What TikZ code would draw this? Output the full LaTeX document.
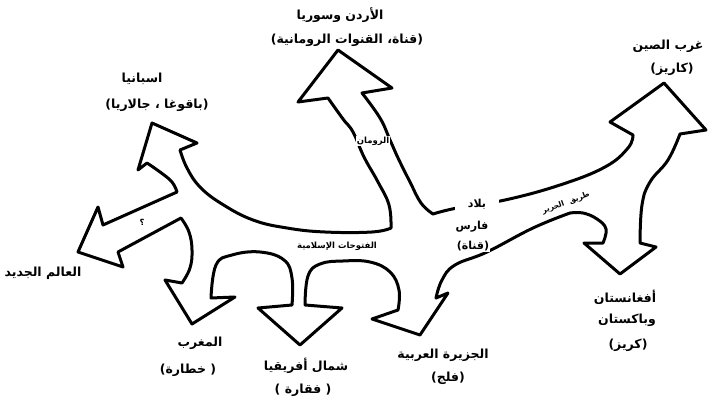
\documentclass[tikz,border=0pt]{standalone}
\usepackage{fontspec}
\newfontfamily\arabicfont[Script=Arabic]{DejaVu Sans}
\TeXXeTstate=1

\begin{document}
\begin{tikzpicture}[x=1pt,y=-1pt,
	outline/.style={draw=black,line width=3pt,line join=round},
	lbl/.style={font=\arabicfont\bfseries\fontsize{12.5}{14}\selectfont,inner sep=1pt},
	lblmid/.style={font=\arabicfont\bfseries\fontsize{11}{12}\selectfont,inner sep=1pt,fill=white},
	lblsmall/.style={font=\arabicfont\bfseries\fontsize{8.5}{9}\selectfont,inner sep=1pt,fill=white}]
	\useasboundingbox (0,0) rectangle (713,412);
	% one closed outline: spain, romans, china, afghanistan, arabia, north africa, maghreb, new world
	\draw[outline]
		(152,123) -- (197,143) -- (180,150)
		-- plot[smooth,tension=0.7] coordinates {(180,150) (187,168) (200,187) (222,204) (253,220) (287,228) (325,232) (372,232) (391,228)}
		-- plot[smooth,tension=0.7] coordinates {(391,228) (389,205) (378,182) (364,157) (353,132) (343,119) (328,98)}
		-- (298,102) -- (338,50) -- (392,88) -- (362,93)
		-- plot[smooth,tension=0.7] coordinates {(362,93) (380,118) (390,140) (399,160) (410,182) (421,203) (433,214)}
		-- plot[smooth,tension=0.7] coordinates {(433,214) (457,208) (505,200) (560,185) (605,167) (628,148) (633,135)}
		-- (610,122) -- (664,83) -- (706,130) -- (680,134)
		-- plot[smooth,tension=0.7] coordinates {(680,134) (668,160) (650,182) (642,205) (640,243)}
		-- (656,247) -- (620,274) -- (584,243) -- (603,243)
		-- plot[smooth,tension=0.7] coordinates {(603,243) (606,229) (597,219) (583,213) (570,213)}
		-- plot[smooth,tension=0.7] coordinates {(570,213) (533,228) (487,252) (455,265) (442,280) (436,298)}
		-- (448,293) -- (420,335) -- (372,319) -- (398,310)
		-- plot[smooth,tension=0.7] coordinates {(398,310) (399,290) (390,272) (370,262) (343,261) (320,264) (308,276) (305,305)}
		-- (342,308) -- (300,345) -- (258,308) -- (292,305)
		-- plot[smooth,tension=0.7] coordinates {(292,305) (292,278) (284,260) (260,252) (232,255) (216,265) (211,298)}
		-- (235,297) -- (192,324) -- (165,280) -- (182,283)
		-- plot[smooth,tension=0.7] coordinates {(182,283) (190,268) (192,250) (189,232) (181,218)}
		-- (118,252) -- (123,267) -- (78,252) -- (98,207) -- (103,225) -- (177,192)
		-- plot[smooth,tension=0.7] coordinates {(177,192) (172,182) (160,172) (147,163)}
		-- (138,170) -- cycle;

	% labels
	\node[lbl] (jorA) at (340,15) {\beginR الأردن وسوريا\endR};
	\node[lbl] (jorB) at (347,40) {\beginR (قناة، القنوات الرومانية)\endR};
	\node[lbl] (chnA) at (668,46) {\beginR غرب الصين\endR};
	\node[lbl] (chnB) at (672,69) {\beginR (كاريز)\endR};
	\node[lbl] (spnA) at (142,79) {\beginR اسبانيا\endR};
	\node[lbl] (spnB) at (157,105) {\beginR (باقوغا ، جالاريا)\endR};
	\node[lbl] (nwdA) at (43,273) {\beginR العالم الجديد\endR};
	\node[lbl] (mgrA) at (200,343) {\beginR المغرب\endR};
	\node[lbl] (mgrB) at (188,370) {\beginR ( خطارة)\endR};
	\node[lbl] (nafA) at (306,366) {\beginR شمال أفريقيا\endR};
	\node[lbl] (nafB) at (303,390) {\beginR ( فقارة )\endR};
	\node[lbl] (arbA) at (443,355) {\beginR الجزيرة العربية\endR};
	\node[lbl] (arbB) at (448,378) {\beginR (فلج)\endR};
	\node[lbl] (afgA) at (625,297) {\beginR أفغانستان\endR};
	\node[lbl] (afgB) at (627,320) {\beginR وباكستان\endR};
	\node[lbl] (afgC) at (628,345) {\beginR (كريز)\endR};
	\node[lblmid,minimum width=44pt] (prsA) at (477,204) {\beginR بلاد\endR};
	\node[lblmid] (prsB) at (472,227) {\beginR فارس\endR};
	\node[lblmid] (prsC) at (473,246) {\beginR (قناة)\endR};
	\node[lblsmall] (romL) at (373,141) {\beginR الرومان\endR};
	\node[lblsmall,fill=none,font=\arabicfont\bfseries\fontsize{7.5}{8}\selectfont,rotate=20] (silkL) at (566,203) {\beginR طريق\hspace{3pt} الحرير\endR};
	\node[lblsmall,fill=none] (islL) at (337,246) {\beginR الفتوحات الإسلامية\endR};
	\node[lblsmall,fill=none] (qL) at (142,222) {؟};
\end{tikzpicture}
\end{document}
